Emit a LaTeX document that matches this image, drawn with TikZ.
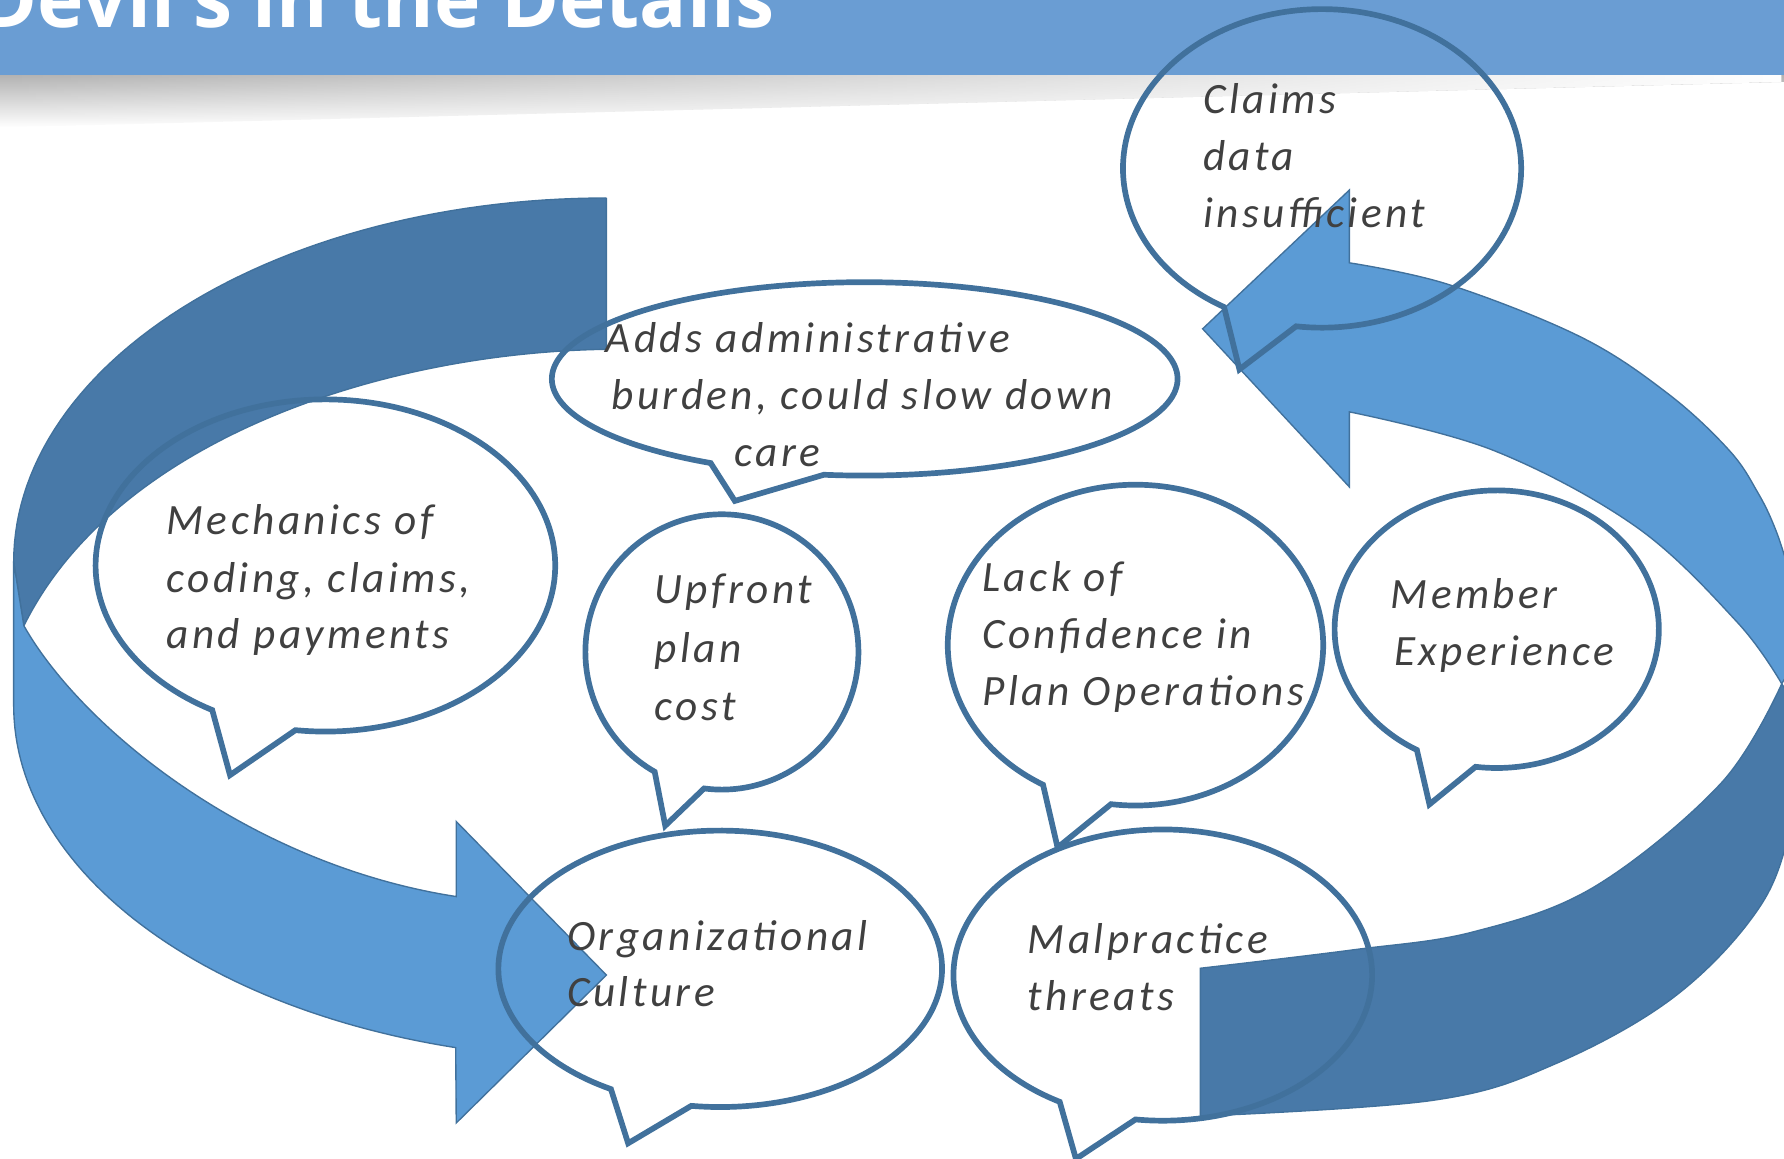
\documentclass[tikz,border=0pt]{standalone}
\usepackage{fontspec}
\usetikzlibrary{fadings}
\newfontfamily\handfont{Carlito}[LetterSpace=8]
\newfontfamily\headfont{Open Sans}

\definecolor{barblue}{HTML}{6A9DD3}
\definecolor{arrowlight}{HTML}{5B9BD5}
\definecolor{arrowdark}{HTML}{4879A8}
\definecolor{edgeblue}{HTML}{41719C}
\definecolor{inkgray}{HTML}{404040}

\tikzfading[name=shadowfade, left color=transparent!100, right color=transparent!0]

% speech bubble: centre (cx,cy), radii (rx,ry), wedge tail towards lower left
\newcommand\callout[4]{%
  \draw[bubble] plot[domain=119.5:457.5, samples=180]
    ({#1+#3*cos(\x)},{#2+#4*sin(\x)})
    -- ({#1-0.415*#3},{#2+1.262*#4}) -- cycle;}

\tikzset{
  bubble/.style={draw=edgeblue, line width=2.5pt, line join=miter},
  arrowbody/.style={draw=edgeblue, line width=0.6pt, line join=miter},
  hand/.style={font=\handfont\itshape\fontsize{19}{23}\selectfont,
    text=inkgray, anchor=base west, inner sep=0pt},
  headline/.style={font=\headfont\bfseries\fontsize{34.5}{40}\selectfont,
    text=white, anchor=base east, inner sep=0pt}
}

\begin{document}
\begin{tikzpicture}[x=0.5pt, y=-0.5pt]
\useasboundingbox (0,0) rectangle (1568,1018);
\clip (0,0) rectangle (1568,1018);

% header band and its shadow
\fill[barblue] (0,0) rectangle (1568,66);
\shade[top color=black!30, bottom color=white]
  (0,66) -- (1568,66) -- (1568,72) -- (0,112) -- cycle;
\fill[white, path fading=shadowfade]
  (0,66) -- (1568,66) -- (1568,72) -- (0,112) -- cycle;
\node[headline] (title) at (681,24) {Devil's in the Details};

% left circular arrow: back face (dark) then front face (light)
\filldraw[arrowbody, fill=arrowdark]
  (533,174) -- (533,307) .. controls (330,310) and (100,390) .. (21,550)
  -- (12,494)
  -- plot[domain=180:270, samples=60] ({533+521*cos(\x)},{494+320*sin(\x)})
  -- cycle;
\filldraw[arrowbody, fill=arrowlight]
  (21,550) -- (12,494) -- (12,620)
  -- plot[domain=0:1, samples=60] ({533+521*cos(180-75.32*\x)},{620+311*sin(180-75.32*\x)})
  -- (401,987) -- (533,857) -- (401,722) -- (401,788)
  .. controls (220,760) and (72,640) .. (21,550) -- cycle;

% right circular arrow: front face (light) with head, back face (dark)
\filldraw[arrowbody, fill=arrowlight]
  (1186,231)
  -- plot[smooth, tension=0.6] coordinates {(1186,231) (1273,250) (1389,296) (1466,346) (1520,396) (1545,433) (1560,464) (1572,500) (1590,560)}
  -- (1566,601)
  -- plot[smooth, tension=0.6] coordinates {(1566,601) (1527,547) (1438,463) (1313,396) (1186,362)}
  -- (1186,428) -- (1057,289) -- (1186,167) -- cycle;
\filldraw[arrowbody, fill=arrowdark]
  (1566,601)
  -- plot[smooth, tension=0.6] coordinates {(1566,601) (1513,688) (1402,779) (1295,819) (1188,835) (1055,851)}
  -- (1055,981)
  -- plot[smooth, tension=0.6] coordinates {(1055,981) (1260,967) (1367,935) (1473,875) (1548,795) (1577,715) (1592,640)}
  -- cycle;

% speech bubbles
\callout{1162}{148}{175}{140}
\callout{760}{333}{275}{85}
\callout{286}{497}{202}{146}
\callout{634.5}{573}{120}{121}
\callout{998}{567}{165}{141}
\callout{1315.5}{553}{142.5}{122}
\callout{633}{851.5}{195}{121.5}
\callout{1022}{857}{184}{128}

% bubble texts
\node[hand] (claims1) at (1057,100) {Claims};
\node[hand] (claims2) at (1057,150) {data};
\node[hand] (claims3) at (1057,200) {insufficient};

\node[hand] (adds1) at (532,310) {Adds administrative};
\node[hand] (adds2) at (537,360) {burden, could slow down};
\node[hand] (adds3) at (645,410) {care};

\node[hand] (mech1) at (146,470) {Mechanics of};
\node[hand] (mech2) at (146,521) {coding, claims,};
\node[hand] (mech3) at (146,570) {and payments};

\node[hand] (cost1) at (575,530) {Upfront};
\node[hand] (cost2) at (575,582) {plan};
\node[hand] (cost3) at (575,633) {cost};

\node[hand] (conf1) at (863,520) {Lack of};
\node[hand] (conf2) at (863,570) {Confidence in};
\node[hand] (conf3) at (863,620) {Plan Operations};

\node[hand] (member1) at (1222,535) {Member};
\node[hand] (member2) at (1225,585) {Experience};

\node[hand] (org1) at (498,835) {Organizational};
\node[hand] (org2) at (498,885) {Culture};

\node[hand] (mal1) at (903,838) {Malpractice};
\node[hand] (mal2) at (903,888) {threats};
\end{tikzpicture}
\end{document}
